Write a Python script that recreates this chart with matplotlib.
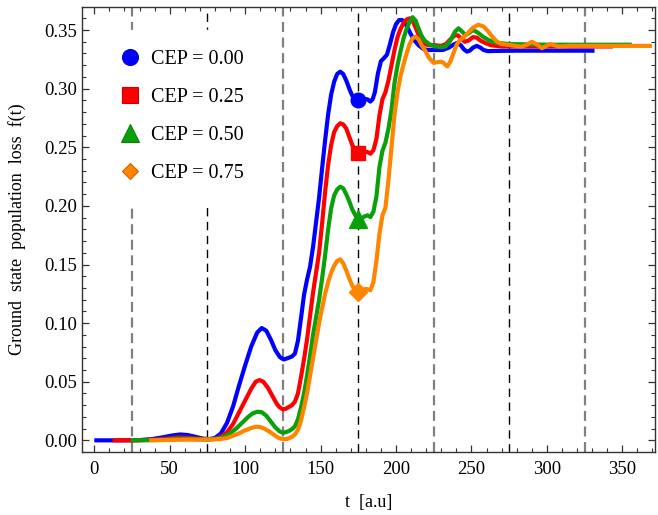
import matplotlib
matplotlib.use("Agg")
import matplotlib.pyplot as plt
from matplotlib.ticker import MultipleLocator, FormatStrFormatter
from matplotlib.lines import Line2D

plt.rcParams['font.family'] = ['Liberation Serif', 'DejaVu Serif']
plt.rcParams['mathtext.fontset'] = 'stix'

# ---------------- data ----------------
t_blue = [0, 10, 20, 30, 38, 45, 52, 57, 62, 67, 72, 76, 80, 84, 88, 92, 96, 100, 104, 108, 111, 114, 117, 120, 123, 125.5,
          128, 131, 133, 135, 137, 139, 141, 143, 145, 147, 149, 151, 153, 155, 157, 159, 161, 163, 165, 167, 169, 171, 173,
          175, 177, 179, 181, 183, 184.5, 186, 188, 190, 192, 194, 196, 198, 200, 202, 204, 206, 208, 210, 212, 215, 218,
          221, 226, 231, 235, 238, 240.5, 243, 245, 247, 249, 251, 253.5, 256, 258, 261, 266, 280, 300, 331.6]
f_blue = [0, 0, 0, 0.0002, 0.001, 0.0025, 0.0042, 0.005, 0.0045, 0.003, 0.0015, 0.001, 0.002, 0.006, 0.015, 0.029, 0.047,
          0.064, 0.080, 0.092, 0.0958, 0.0935, 0.086, 0.077, 0.071, 0.069, 0.070, 0.0715, 0.074, 0.085, 0.104, 0.124, 0.137,
          0.148, 0.165, 0.186, 0.207, 0.232, 0.256, 0.278, 0.295, 0.306, 0.3125, 0.3145, 0.3125, 0.307, 0.300, 0.294, 0.291,
          0.290, 0.290, 0.291, 0.291, 0.289, 0.291, 0.297, 0.313, 0.3235, 0.326, 0.329, 0.338, 0.348, 0.355, 0.3585, 0.3586,
          0.356, 0.351, 0.346, 0.3415, 0.337, 0.334, 0.333, 0.333, 0.333, 0.335, 0.3375, 0.339, 0.337, 0.3335, 0.3316, 0.3325,
          0.335, 0.3365, 0.335, 0.333, 0.332, 0.3322, 0.3324, 0.3324, 0.3324]

t_red = [12.1, 20, 30, 40, 48, 56, 62, 68, 74, 80, 84, 88, 92, 96, 100, 104, 107, 109.5, 112, 115, 118, 121, 123, 125, 127,
         129, 131, 133, 135, 137, 139, 141, 143, 145, 147, 149, 151, 153, 155, 157, 159, 161, 163, 165, 167, 169, 171, 173,
         175, 177, 179, 181, 183, 185, 187, 189, 191, 193, 195, 197, 199, 201, 203, 205, 207, 209, 211, 213, 215, 217, 219,
         222, 226, 230, 233, 236, 239, 241, 243, 245.5, 248, 251, 253.5, 256, 259, 263, 270, 300, 343.8]
f_red = [0, 0, 0.0001, 0.0006, 0.0015, 0.0025, 0.0022, 0.0015, 0.001, 0.0012, 0.003, 0.007, 0.014, 0.024, 0.034, 0.044,
         0.050, 0.0514, 0.050, 0.045, 0.038, 0.031, 0.028, 0.0264, 0.027, 0.0285, 0.030, 0.033, 0.040, 0.054, 0.069, 0.086,
         0.106, 0.126, 0.143, 0.160, 0.185, 0.212, 0.235, 0.252, 0.263, 0.268, 0.2705, 0.2695, 0.266, 0.259, 0.252, 0.2475,
         0.245, 0.245, 0.246, 0.246, 0.2445, 0.2475, 0.257, 0.277, 0.291, 0.297, 0.307, 0.320, 0.333, 0.344, 0.351, 0.356,
         0.359, 0.360, 0.358, 0.352, 0.346, 0.341, 0.338, 0.337, 0.337, 0.3365, 0.338, 0.342, 0.3455, 0.3455, 0.343, 0.340,
         0.341, 0.344, 0.3435, 0.341, 0.339, 0.337, 0.336, 0.336, 0.336]

t_green = [24.3, 35, 45, 55, 62, 70, 76, 82, 86, 90, 94, 98, 102, 105, 108, 111, 114, 117, 120, 123, 125, 127, 129, 131,
           133, 135, 137, 139, 141, 143, 145, 147, 149, 151, 153, 155, 157, 159, 161, 163, 165, 167, 169, 171, 173, 175,
           177, 179, 181, 183, 185, 187, 189, 191, 193, 195, 197, 199, 201, 203, 205, 207, 209, 211, 213, 215, 217, 219,
           222, 226, 230, 233, 236, 239, 241.4, 243.5, 245.8, 248, 251, 254, 258, 262, 267, 276, 300, 356.3]
f_green = [0, 0.0001, 0.0005, 0.0013, 0.0012, 0.0008, 0.0008, 0.0015, 0.003, 0.006, 0.010, 0.015, 0.020, 0.023, 0.0244,
           0.024, 0.021, 0.016, 0.011, 0.0075, 0.0065, 0.007, 0.008, 0.0095, 0.012, 0.018, 0.028, 0.040, 0.055, 0.072,
           0.090, 0.105, 0.120, 0.138, 0.158, 0.180, 0.198, 0.209, 0.214, 0.2164, 0.215, 0.210, 0.204, 0.197, 0.192, 0.189,
           0.189, 0.191, 0.192, 0.1905, 0.195, 0.208, 0.233, 0.247, 0.254, 0.266, 0.282, 0.305, 0.320, 0.332, 0.343, 0.351,
           0.357, 0.361, 0.358, 0.351, 0.345, 0.341, 0.338, 0.336, 0.3355, 0.336, 0.341, 0.3485, 0.3515, 0.349, 0.346,
           0.347, 0.350, 0.348, 0.344, 0.341, 0.339, 0.338, 0.3375, 0.3375]

t_orange = [36.4, 50, 60, 70, 78, 84, 88, 92, 96, 100, 104, 107, 110, 113, 116, 119, 122, 125, 128, 131, 133, 135, 137,
            139, 141, 143, 145, 147, 149, 151, 153, 155, 157, 159, 161, 163, 165, 167, 169, 171, 173, 175, 177, 179, 181,
            183, 185, 187, 189, 191, 193, 195, 197, 199, 201, 203, 205, 207, 209, 211, 213, 215, 217, 219.5, 222, 225, 227,
            229.3, 231, 234, 236, 238, 240, 242, 245, 248, 251, 254.5, 258, 261, 264, 267, 270, 275, 279, 283, 286, 290,
            293, 296.7, 299, 302, 305, 308, 315, 369.6]
f_orange = [0, 0.0003, 0.0006, 0.0006, 0.0007, 0.0012, 0.002, 0.004, 0.006, 0.0085, 0.0105, 0.0116, 0.0113, 0.0098,
            0.0075, 0.0048, 0.0022, 0.001, 0.0012, 0.003, 0.005, 0.009, 0.017, 0.028, 0.040, 0.055, 0.070, 0.085, 0.100,
            0.113, 0.125, 0.135, 0.143, 0.149, 0.1530, 0.1544, 0.151, 0.145, 0.138, 0.132, 0.128, 0.1268, 0.127, 0.129,
            0.129, 0.128, 0.135, 0.153, 0.176, 0.192, 0.1985, 0.222, 0.250, 0.278, 0.297, 0.311, 0.321, 0.330, 0.338,
            0.343, 0.3443, 0.342, 0.337, 0.332, 0.326, 0.322, 0.3225, 0.323, 0.3225, 0.319, 0.323, 0.330, 0.337, 0.341,
            0.344, 0.348, 0.352, 0.3545, 0.353, 0.349, 0.344, 0.340, 0.338, 0.3373, 0.3365, 0.3358, 0.337, 0.340, 0.338,
            0.3345, 0.336, 0.338, 0.337, 0.336, 0.3365, 0.3365]

labels = ['CEP = 0.00', 'CEP = 0.25', 'CEP = 0.50', 'CEP = 0.75']
marker_t = [175, 175, 175, 175]
marker_f = [0.290, 0.245, 0.189, 0.1268]
vlines_gray = [25, 125, 225, 325]
vlines_black = [75, 175, 275]

colors = ['#0000ff', '#ff0000', '#0aa00a', '#ff8400']
edgecols = ['#0000cc', '#cc0000', '#078007', '#c86400']
markers = ['o', 's', '^', 'D']
msizes = [10.5, 10.5, 13, 9]

# ---------------- figure ----------------
fig = plt.figure(figsize=(6.58, 5.15), dpi=100)
ax = fig.add_axes([0.1251, 0.1229, 0.8704, 0.8629])

for v in vlines_gray:
    ax.axvline(v, color='#808080', lw=1.6, ls=(0, (4.5, 2.5)), zorder=1)
for v in vlines_black:
    ax.axvline(v, color='black', lw=1.0, ls=(0, (6, 4)), zorder=1)

series = [(t_blue, f_blue), (t_red, f_red), (t_green, f_green), (t_orange, f_orange)]
for (tt, ff), c in zip(series, colors):
    ax.plot(tt, ff, color=c, lw=3.0, solid_joinstyle='round', solid_capstyle='butt', zorder=3)

for i in range(4):
    ax.plot(marker_t[i], marker_f[i], marker=markers[i], ms=msizes[i], color=colors[i],
            mec=colors[i], ls='none', zorder=4)

handles = [Line2D([], [], ls='none', marker=markers[i], ms=[11.5, 11.5, 12.5, 8.2][i],
                  mfc=colors[i], mec=edgecols[i], mew=0.8) for i in range(4)]
leg = ax.legend(handles, labels, loc='upper left', bbox_to_anchor=(0.0134, 0.9714), frameon=True,
                fancybox=False, framealpha=1, facecolor='white', edgecolor='white', fontsize=14.5,
                handlelength=1.0, handletextpad=0.55, labelspacing=0.94, borderpad=1.0)
leg.set_zorder(5)

ax.set_xlim(-7.95, 371.7)
ax.set_ylim(-0.0097, 0.3694)
ax.xaxis.set_major_locator(MultipleLocator(50))
ax.xaxis.set_minor_locator(MultipleLocator(10))
ax.yaxis.set_major_locator(MultipleLocator(0.05))
ax.yaxis.set_minor_locator(MultipleLocator(0.01))
ax.yaxis.set_major_formatter(FormatStrFormatter('%.2f'))
ax.tick_params(which='both', direction='in', top=True, right=True, color='#333333', labelsize=13.5)
ax.tick_params(which='major', length=5, width=0.9)
ax.tick_params(which='minor', length=3, width=0.8)
ax.tick_params(axis='x', pad=7)
ax.tick_params(axis='y', pad=4)
for s in ax.spines.values():
    s.set_color('#333333')
    s.set_linewidth(1.0)

ax.set_xlabel('t  [a.u]', fontsize=13, labelpad=11)
ax.set_ylabel('Ground  state  population  loss  f(t)', fontsize=13, labelpad=13)

fig.savefig('out.png', dpi=100)
